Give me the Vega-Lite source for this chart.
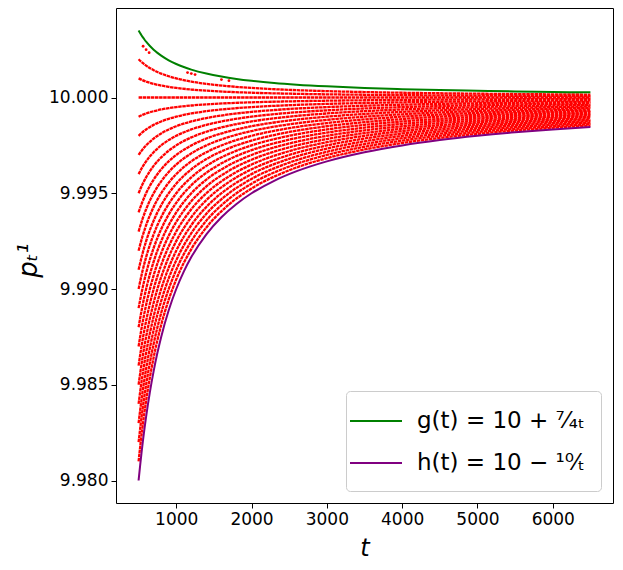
{
  "$schema": "https://vega.github.io/schema/vega-lite/v6.json",
  "width": 497,
  "height": 495,
  "autosize": "none",
  "padding": {"left": 116, "top": 8, "right": 10, "bottom": 67},
  "background": "white",
  "datasets": {
    "paths": [
      {"c":1,"t":500,"p":10.002},{"c":1,"t":550,"p":10.001818},{"c":1,"t":600,"p":10.001667},{"c":1,"t":700,"p":10.001429},{"c":1,"t":800,"p":10.00125},{"c":1,"t":900,"p":10.001111},{"c":1,"t":1000,"p":10.001},{"c":1,"t":1200,"p":10.000833},{"c":1,"t":1400,"p":10.000714},{"c":1,"t":1700,"p":10.000588},{"c":1,"t":2000,"p":10.0005},{"c":1,"t":2500,"p":10.0004},{"c":1,"t":3000,"p":10.000333},{"c":1,"t":3500,"p":10.000286},{"c":1,"t":4000,"p":10.00025},{"c":1,"t":5000,"p":10.0002},{"c":1,"t":6000,"p":10.000167},{"c":1,"t":6500,"p":10.000154},
      {"c":0.5,"t":500,"p":10.001},{"c":0.5,"t":550,"p":10.000909},{"c":0.5,"t":600,"p":10.000833},{"c":0.5,"t":700,"p":10.000714},{"c":0.5,"t":800,"p":10.000625},{"c":0.5,"t":900,"p":10.000556},{"c":0.5,"t":1000,"p":10.0005},{"c":0.5,"t":1200,"p":10.000417},{"c":0.5,"t":1400,"p":10.000357},{"c":0.5,"t":1700,"p":10.000294},{"c":0.5,"t":2000,"p":10.00025},{"c":0.5,"t":2500,"p":10.0002},{"c":0.5,"t":3000,"p":10.000167},{"c":0.5,"t":3500,"p":10.000143},{"c":0.5,"t":4000,"p":10.000125},{"c":0.5,"t":5000,"p":10.0001},{"c":0.5,"t":6000,"p":10.000083},{"c":0.5,"t":6500,"p":10.000077},
      {"c":0,"t":500,"p":10.0},{"c":0,"t":6500,"p":10.0},
      {"c":-0.5,"t":500,"p":9.999},{"c":-0.5,"t":550,"p":9.999091},{"c":-0.5,"t":600,"p":9.999167},{"c":-0.5,"t":700,"p":9.999286},{"c":-0.5,"t":800,"p":9.999375},{"c":-0.5,"t":900,"p":9.999444},{"c":-0.5,"t":1000,"p":9.9995},{"c":-0.5,"t":1200,"p":9.999583},{"c":-0.5,"t":1400,"p":9.999643},{"c":-0.5,"t":1700,"p":9.999706},{"c":-0.5,"t":2000,"p":9.99975},{"c":-0.5,"t":2500,"p":9.9998},{"c":-0.5,"t":3000,"p":9.999833},{"c":-0.5,"t":3500,"p":9.999857},{"c":-0.5,"t":4000,"p":9.999875},{"c":-0.5,"t":5000,"p":9.9999},{"c":-0.5,"t":6000,"p":9.999917},{"c":-0.5,"t":6500,"p":9.999923},
      {"c":-1,"t":500,"p":9.998},{"c":-1,"t":550,"p":9.998182},{"c":-1,"t":600,"p":9.998333},{"c":-1,"t":700,"p":9.998571},{"c":-1,"t":800,"p":9.99875},{"c":-1,"t":900,"p":9.998889},{"c":-1,"t":1000,"p":9.999},{"c":-1,"t":1200,"p":9.999167},{"c":-1,"t":1400,"p":9.999286},{"c":-1,"t":1700,"p":9.999412},{"c":-1,"t":2000,"p":9.9995},{"c":-1,"t":2500,"p":9.9996},{"c":-1,"t":3000,"p":9.999667},{"c":-1,"t":3500,"p":9.999714},{"c":-1,"t":4000,"p":9.99975},{"c":-1,"t":5000,"p":9.9998},{"c":-1,"t":6000,"p":9.999833},{"c":-1,"t":6500,"p":9.999846},
      {"c":-1.5,"t":500,"p":9.997},{"c":-1.5,"t":550,"p":9.997273},{"c":-1.5,"t":600,"p":9.9975},{"c":-1.5,"t":700,"p":9.997857},{"c":-1.5,"t":800,"p":9.998125},{"c":-1.5,"t":900,"p":9.998333},{"c":-1.5,"t":1000,"p":9.9985},{"c":-1.5,"t":1200,"p":9.99875},{"c":-1.5,"t":1400,"p":9.998929},{"c":-1.5,"t":1700,"p":9.999118},{"c":-1.5,"t":2000,"p":9.99925},{"c":-1.5,"t":2500,"p":9.9994},{"c":-1.5,"t":3000,"p":9.9995},{"c":-1.5,"t":3500,"p":9.999571},{"c":-1.5,"t":4000,"p":9.999625},{"c":-1.5,"t":5000,"p":9.9997},{"c":-1.5,"t":6000,"p":9.99975},{"c":-1.5,"t":6500,"p":9.999769},
      {"c":-2,"t":500,"p":9.996},{"c":-2,"t":550,"p":9.996364},{"c":-2,"t":600,"p":9.996667},{"c":-2,"t":700,"p":9.997143},{"c":-2,"t":800,"p":9.9975},{"c":-2,"t":900,"p":9.997778},{"c":-2,"t":1000,"p":9.998},{"c":-2,"t":1200,"p":9.998333},{"c":-2,"t":1400,"p":9.998571},{"c":-2,"t":1700,"p":9.998824},{"c":-2,"t":2000,"p":9.999},{"c":-2,"t":2500,"p":9.9992},{"c":-2,"t":3000,"p":9.999333},{"c":-2,"t":3500,"p":9.999429},{"c":-2,"t":4000,"p":9.9995},{"c":-2,"t":5000,"p":9.9996},{"c":-2,"t":6000,"p":9.999667},{"c":-2,"t":6500,"p":9.999692},
      {"c":-2.5,"t":500,"p":9.995},{"c":-2.5,"t":550,"p":9.995455},{"c":-2.5,"t":600,"p":9.995833},{"c":-2.5,"t":700,"p":9.996429},{"c":-2.5,"t":800,"p":9.996875},{"c":-2.5,"t":900,"p":9.997222},{"c":-2.5,"t":1000,"p":9.9975},{"c":-2.5,"t":1200,"p":9.997917},{"c":-2.5,"t":1400,"p":9.998214},{"c":-2.5,"t":1700,"p":9.998529},{"c":-2.5,"t":2000,"p":9.99875},{"c":-2.5,"t":2500,"p":9.999},{"c":-2.5,"t":3000,"p":9.999167},{"c":-2.5,"t":3500,"p":9.999286},{"c":-2.5,"t":4000,"p":9.999375},{"c":-2.5,"t":5000,"p":9.9995},{"c":-2.5,"t":6000,"p":9.999583},{"c":-2.5,"t":6500,"p":9.999615},
      {"c":-3,"t":500,"p":9.994},{"c":-3,"t":550,"p":9.994545},{"c":-3,"t":600,"p":9.995},{"c":-3,"t":700,"p":9.995714},{"c":-3,"t":800,"p":9.99625},{"c":-3,"t":900,"p":9.996667},{"c":-3,"t":1000,"p":9.997},{"c":-3,"t":1200,"p":9.9975},{"c":-3,"t":1400,"p":9.997857},{"c":-3,"t":1700,"p":9.998235},{"c":-3,"t":2000,"p":9.9985},{"c":-3,"t":2500,"p":9.9988},{"c":-3,"t":3000,"p":9.999},{"c":-3,"t":3500,"p":9.999143},{"c":-3,"t":4000,"p":9.99925},{"c":-3,"t":5000,"p":9.9994},{"c":-3,"t":6000,"p":9.9995},{"c":-3,"t":6500,"p":9.999538},
      {"c":-3.5,"t":500,"p":9.993},{"c":-3.5,"t":550,"p":9.993636},{"c":-3.5,"t":600,"p":9.994167},{"c":-3.5,"t":700,"p":9.995},{"c":-3.5,"t":800,"p":9.995625},{"c":-3.5,"t":900,"p":9.996111},{"c":-3.5,"t":1000,"p":9.9965},{"c":-3.5,"t":1200,"p":9.997083},{"c":-3.5,"t":1400,"p":9.9975},{"c":-3.5,"t":1700,"p":9.997941},{"c":-3.5,"t":2000,"p":9.99825},{"c":-3.5,"t":2500,"p":9.9986},{"c":-3.5,"t":3000,"p":9.998833},{"c":-3.5,"t":3500,"p":9.999},{"c":-3.5,"t":4000,"p":9.999125},{"c":-3.5,"t":5000,"p":9.9993},{"c":-3.5,"t":6000,"p":9.999417},{"c":-3.5,"t":6500,"p":9.999462},
      {"c":-4,"t":500,"p":9.992},{"c":-4,"t":550,"p":9.992727},{"c":-4,"t":600,"p":9.993333},{"c":-4,"t":700,"p":9.994286},{"c":-4,"t":800,"p":9.995},{"c":-4,"t":900,"p":9.995556},{"c":-4,"t":1000,"p":9.996},{"c":-4,"t":1200,"p":9.996667},{"c":-4,"t":1400,"p":9.997143},{"c":-4,"t":1700,"p":9.997647},{"c":-4,"t":2000,"p":9.998},{"c":-4,"t":2500,"p":9.9984},{"c":-4,"t":3000,"p":9.998667},{"c":-4,"t":3500,"p":9.998857},{"c":-4,"t":4000,"p":9.999},{"c":-4,"t":5000,"p":9.9992},{"c":-4,"t":6000,"p":9.999333},{"c":-4,"t":6500,"p":9.999385},
      {"c":-4.5,"t":500,"p":9.991},{"c":-4.5,"t":550,"p":9.991818},{"c":-4.5,"t":600,"p":9.9925},{"c":-4.5,"t":700,"p":9.993571},{"c":-4.5,"t":800,"p":9.994375},{"c":-4.5,"t":900,"p":9.995},{"c":-4.5,"t":1000,"p":9.9955},{"c":-4.5,"t":1200,"p":9.99625},{"c":-4.5,"t":1400,"p":9.996786},{"c":-4.5,"t":1700,"p":9.997353},{"c":-4.5,"t":2000,"p":9.99775},{"c":-4.5,"t":2500,"p":9.9982},{"c":-4.5,"t":3000,"p":9.9985},{"c":-4.5,"t":3500,"p":9.998714},{"c":-4.5,"t":4000,"p":9.998875},{"c":-4.5,"t":5000,"p":9.9991},{"c":-4.5,"t":6000,"p":9.99925},{"c":-4.5,"t":6500,"p":9.999308},
      {"c":-5,"t":500,"p":9.99},{"c":-5,"t":550,"p":9.990909},{"c":-5,"t":600,"p":9.991667},{"c":-5,"t":700,"p":9.992857},{"c":-5,"t":800,"p":9.99375},{"c":-5,"t":900,"p":9.994444},{"c":-5,"t":1000,"p":9.995},{"c":-5,"t":1200,"p":9.995833},{"c":-5,"t":1400,"p":9.996429},{"c":-5,"t":1700,"p":9.997059},{"c":-5,"t":2000,"p":9.9975},{"c":-5,"t":2500,"p":9.998},{"c":-5,"t":3000,"p":9.998333},{"c":-5,"t":3500,"p":9.998571},{"c":-5,"t":4000,"p":9.99875},{"c":-5,"t":5000,"p":9.999},{"c":-5,"t":6000,"p":9.999167},{"c":-5,"t":6500,"p":9.999231},
      {"c":-5.5,"t":500,"p":9.989},{"c":-5.5,"t":550,"p":9.99},{"c":-5.5,"t":600,"p":9.990833},{"c":-5.5,"t":700,"p":9.992143},{"c":-5.5,"t":800,"p":9.993125},{"c":-5.5,"t":900,"p":9.993889},{"c":-5.5,"t":1000,"p":9.9945},{"c":-5.5,"t":1200,"p":9.995417},{"c":-5.5,"t":1400,"p":9.996071},{"c":-5.5,"t":1700,"p":9.996765},{"c":-5.5,"t":2000,"p":9.99725},{"c":-5.5,"t":2500,"p":9.9978},{"c":-5.5,"t":3000,"p":9.998167},{"c":-5.5,"t":3500,"p":9.998429},{"c":-5.5,"t":4000,"p":9.998625},{"c":-5.5,"t":5000,"p":9.9989},{"c":-5.5,"t":6000,"p":9.999083},{"c":-5.5,"t":6500,"p":9.999154},
      {"c":-6,"t":500,"p":9.988},{"c":-6,"t":550,"p":9.989091},{"c":-6,"t":600,"p":9.99},{"c":-6,"t":700,"p":9.991429},{"c":-6,"t":800,"p":9.9925},{"c":-6,"t":900,"p":9.993333},{"c":-6,"t":1000,"p":9.994},{"c":-6,"t":1200,"p":9.995},{"c":-6,"t":1400,"p":9.995714},{"c":-6,"t":1700,"p":9.996471},{"c":-6,"t":2000,"p":9.997},{"c":-6,"t":2500,"p":9.9976},{"c":-6,"t":3000,"p":9.998},{"c":-6,"t":3500,"p":9.998286},{"c":-6,"t":4000,"p":9.9985},{"c":-6,"t":5000,"p":9.9988},{"c":-6,"t":6000,"p":9.999},{"c":-6,"t":6500,"p":9.999077},
      {"c":-6.5,"t":500,"p":9.987},{"c":-6.5,"t":550,"p":9.988182},{"c":-6.5,"t":600,"p":9.989167},{"c":-6.5,"t":700,"p":9.990714},{"c":-6.5,"t":800,"p":9.991875},{"c":-6.5,"t":900,"p":9.992778},{"c":-6.5,"t":1000,"p":9.9935},{"c":-6.5,"t":1200,"p":9.994583},{"c":-6.5,"t":1400,"p":9.995357},{"c":-6.5,"t":1700,"p":9.996176},{"c":-6.5,"t":2000,"p":9.99675},{"c":-6.5,"t":2500,"p":9.9974},{"c":-6.5,"t":3000,"p":9.997833},{"c":-6.5,"t":3500,"p":9.998143},{"c":-6.5,"t":4000,"p":9.998375},{"c":-6.5,"t":5000,"p":9.9987},{"c":-6.5,"t":6000,"p":9.998917},{"c":-6.5,"t":6500,"p":9.999},
      {"c":-7,"t":500,"p":9.986},{"c":-7,"t":550,"p":9.987273},{"c":-7,"t":600,"p":9.988333},{"c":-7,"t":700,"p":9.99},{"c":-7,"t":800,"p":9.99125},{"c":-7,"t":900,"p":9.992222},{"c":-7,"t":1000,"p":9.993},{"c":-7,"t":1200,"p":9.994167},{"c":-7,"t":1400,"p":9.995},{"c":-7,"t":1700,"p":9.995882},{"c":-7,"t":2000,"p":9.9965},{"c":-7,"t":2500,"p":9.9972},{"c":-7,"t":3000,"p":9.997667},{"c":-7,"t":3500,"p":9.998},{"c":-7,"t":4000,"p":9.99825},{"c":-7,"t":5000,"p":9.9986},{"c":-7,"t":6000,"p":9.998833},{"c":-7,"t":6500,"p":9.998923},
      {"c":-7.5,"t":500,"p":9.985},{"c":-7.5,"t":550,"p":9.986364},{"c":-7.5,"t":600,"p":9.9875},{"c":-7.5,"t":700,"p":9.989286},{"c":-7.5,"t":800,"p":9.990625},{"c":-7.5,"t":900,"p":9.991667},{"c":-7.5,"t":1000,"p":9.9925},{"c":-7.5,"t":1200,"p":9.99375},{"c":-7.5,"t":1400,"p":9.994643},{"c":-7.5,"t":1700,"p":9.995588},{"c":-7.5,"t":2000,"p":9.99625},{"c":-7.5,"t":2500,"p":9.997},{"c":-7.5,"t":3000,"p":9.9975},{"c":-7.5,"t":3500,"p":9.997857},{"c":-7.5,"t":4000,"p":9.998125},{"c":-7.5,"t":5000,"p":9.9985},{"c":-7.5,"t":6000,"p":9.99875},{"c":-7.5,"t":6500,"p":9.998846},
      {"c":-8,"t":500,"p":9.984},{"c":-8,"t":550,"p":9.985455},{"c":-8,"t":600,"p":9.986667},{"c":-8,"t":700,"p":9.988571},{"c":-8,"t":800,"p":9.99},{"c":-8,"t":900,"p":9.991111},{"c":-8,"t":1000,"p":9.992},{"c":-8,"t":1200,"p":9.993333},{"c":-8,"t":1400,"p":9.994286},{"c":-8,"t":1700,"p":9.995294},{"c":-8,"t":2000,"p":9.996},{"c":-8,"t":2500,"p":9.9968},{"c":-8,"t":3000,"p":9.997333},{"c":-8,"t":3500,"p":9.997714},{"c":-8,"t":4000,"p":9.998},{"c":-8,"t":5000,"p":9.9984},{"c":-8,"t":6000,"p":9.998667},{"c":-8,"t":6500,"p":9.998769},
      {"c":-8.5,"t":500,"p":9.983},{"c":-8.5,"t":550,"p":9.984545},{"c":-8.5,"t":600,"p":9.985833},{"c":-8.5,"t":700,"p":9.987857},{"c":-8.5,"t":800,"p":9.989375},{"c":-8.5,"t":900,"p":9.990556},{"c":-8.5,"t":1000,"p":9.9915},{"c":-8.5,"t":1200,"p":9.992917},{"c":-8.5,"t":1400,"p":9.993929},{"c":-8.5,"t":1700,"p":9.995},{"c":-8.5,"t":2000,"p":9.99575},{"c":-8.5,"t":2500,"p":9.9966},{"c":-8.5,"t":3000,"p":9.997167},{"c":-8.5,"t":3500,"p":9.997571},{"c":-8.5,"t":4000,"p":9.997875},{"c":-8.5,"t":5000,"p":9.9983},{"c":-8.5,"t":6000,"p":9.998583},{"c":-8.5,"t":6500,"p":9.998692},
      {"c":-9,"t":500,"p":9.982},{"c":-9,"t":550,"p":9.983636},{"c":-9,"t":600,"p":9.985},{"c":-9,"t":700,"p":9.987143},{"c":-9,"t":800,"p":9.98875},{"c":-9,"t":900,"p":9.99},{"c":-9,"t":1000,"p":9.991},{"c":-9,"t":1200,"p":9.9925},{"c":-9,"t":1400,"p":9.993571},{"c":-9,"t":1700,"p":9.994706},{"c":-9,"t":2000,"p":9.9955},{"c":-9,"t":2500,"p":9.9964},{"c":-9,"t":3000,"p":9.997},{"c":-9,"t":3500,"p":9.997429},{"c":-9,"t":4000,"p":9.99775},{"c":-9,"t":5000,"p":9.9982},{"c":-9,"t":6000,"p":9.9985},{"c":-9,"t":6500,"p":9.998615},
      {"c":-9.5,"t":500,"p":9.981},{"c":-9.5,"t":550,"p":9.982727},{"c":-9.5,"t":600,"p":9.984167},{"c":-9.5,"t":700,"p":9.986429},{"c":-9.5,"t":800,"p":9.988125},{"c":-9.5,"t":900,"p":9.989444},{"c":-9.5,"t":1000,"p":9.9905},{"c":-9.5,"t":1200,"p":9.992083},{"c":-9.5,"t":1400,"p":9.993214},{"c":-9.5,"t":1700,"p":9.994412},{"c":-9.5,"t":2000,"p":9.99525},{"c":-9.5,"t":2500,"p":9.9962},{"c":-9.5,"t":3000,"p":9.996833},{"c":-9.5,"t":3500,"p":9.997286},{"c":-9.5,"t":4000,"p":9.997625},{"c":-9.5,"t":5000,"p":9.9981},{"c":-9.5,"t":6000,"p":9.998417},{"c":-9.5,"t":6500,"p":9.998538}
    ],
    "dots": [
      {"t":560,"p":10.002679},{"t":600,"p":10.0025},{"t":640,"p":10.002344},
      {"t":1150,"p":10.001304},{"t":1200,"p":10.00125},{"t":1250,"p":10.0012},
      {"t":1600,"p":10.000938},{"t":1700,"p":10.000882}
    ],
    "bounds": [
      {"f":"g(t) = 10 + ⁷⁄₄ₜ","t":500,"p":10.0035},{"f":"g(t) = 10 + ⁷⁄₄ₜ","t":520,"p":10.003365},{"f":"g(t) = 10 + ⁷⁄₄ₜ","t":540,"p":10.003241},{"f":"g(t) = 10 + ⁷⁄₄ₜ","t":560,"p":10.003125},{"f":"g(t) = 10 + ⁷⁄₄ₜ","t":580,"p":10.003017},{"f":"g(t) = 10 + ⁷⁄₄ₜ","t":600,"p":10.002917},{"f":"g(t) = 10 + ⁷⁄₄ₜ","t":650,"p":10.002692},{"f":"g(t) = 10 + ⁷⁄₄ₜ","t":700,"p":10.0025},{"f":"g(t) = 10 + ⁷⁄₄ₜ","t":750,"p":10.002333},{"f":"g(t) = 10 + ⁷⁄₄ₜ","t":800,"p":10.002188},{"f":"g(t) = 10 + ⁷⁄₄ₜ","t":900,"p":10.001944},{"f":"g(t) = 10 + ⁷⁄₄ₜ","t":1000,"p":10.00175},{"f":"g(t) = 10 + ⁷⁄₄ₜ","t":1100,"p":10.001591},{"f":"g(t) = 10 + ⁷⁄₄ₜ","t":1200,"p":10.001458},{"f":"g(t) = 10 + ⁷⁄₄ₜ","t":1400,"p":10.00125},{"f":"g(t) = 10 + ⁷⁄₄ₜ","t":1600,"p":10.001094},{"f":"g(t) = 10 + ⁷⁄₄ₜ","t":1800,"p":10.000972},{"f":"g(t) = 10 + ⁷⁄₄ₜ","t":2000,"p":10.000875},{"f":"g(t) = 10 + ⁷⁄₄ₜ","t":2300,"p":10.000761},{"f":"g(t) = 10 + ⁷⁄₄ₜ","t":2600,"p":10.000673},{"f":"g(t) = 10 + ⁷⁄₄ₜ","t":3000,"p":10.000583},{"f":"g(t) = 10 + ⁷⁄₄ₜ","t":3500,"p":10.0005},{"f":"g(t) = 10 + ⁷⁄₄ₜ","t":4000,"p":10.000438},{"f":"g(t) = 10 + ⁷⁄₄ₜ","t":4500,"p":10.000389},{"f":"g(t) = 10 + ⁷⁄₄ₜ","t":5000,"p":10.00035},{"f":"g(t) = 10 + ⁷⁄₄ₜ","t":5500,"p":10.000318},{"f":"g(t) = 10 + ⁷⁄₄ₜ","t":6000,"p":10.000292},{"f":"g(t) = 10 + ⁷⁄₄ₜ","t":6500,"p":10.000269},
      {"f":"h(t) = 10 − ¹⁰⁄ₜ","t":500,"p":9.98},{"f":"h(t) = 10 − ¹⁰⁄ₜ","t":520,"p":9.980769},{"f":"h(t) = 10 − ¹⁰⁄ₜ","t":540,"p":9.981481},{"f":"h(t) = 10 − ¹⁰⁄ₜ","t":560,"p":9.982143},{"f":"h(t) = 10 − ¹⁰⁄ₜ","t":580,"p":9.982759},{"f":"h(t) = 10 − ¹⁰⁄ₜ","t":600,"p":9.983333},{"f":"h(t) = 10 − ¹⁰⁄ₜ","t":650,"p":9.984615},{"f":"h(t) = 10 − ¹⁰⁄ₜ","t":700,"p":9.985714},{"f":"h(t) = 10 − ¹⁰⁄ₜ","t":750,"p":9.986667},{"f":"h(t) = 10 − ¹⁰⁄ₜ","t":800,"p":9.9875},{"f":"h(t) = 10 − ¹⁰⁄ₜ","t":900,"p":9.988889},{"f":"h(t) = 10 − ¹⁰⁄ₜ","t":1000,"p":9.99},{"f":"h(t) = 10 − ¹⁰⁄ₜ","t":1100,"p":9.990909},{"f":"h(t) = 10 − ¹⁰⁄ₜ","t":1200,"p":9.991667},{"f":"h(t) = 10 − ¹⁰⁄ₜ","t":1400,"p":9.992857},{"f":"h(t) = 10 − ¹⁰⁄ₜ","t":1600,"p":9.99375},{"f":"h(t) = 10 − ¹⁰⁄ₜ","t":1800,"p":9.994444},{"f":"h(t) = 10 − ¹⁰⁄ₜ","t":2000,"p":9.995},{"f":"h(t) = 10 − ¹⁰⁄ₜ","t":2300,"p":9.995652},{"f":"h(t) = 10 − ¹⁰⁄ₜ","t":2600,"p":9.996154},{"f":"h(t) = 10 − ¹⁰⁄ₜ","t":3000,"p":9.996667},{"f":"h(t) = 10 − ¹⁰⁄ₜ","t":3500,"p":9.997143},{"f":"h(t) = 10 − ¹⁰⁄ₜ","t":4000,"p":9.9975},{"f":"h(t) = 10 − ¹⁰⁄ₜ","t":4500,"p":9.997778},{"f":"h(t) = 10 − ¹⁰⁄ₜ","t":5000,"p":9.998},{"f":"h(t) = 10 − ¹⁰⁄ₜ","t":5500,"p":9.998182},{"f":"h(t) = 10 − ¹⁰⁄ₜ","t":6000,"p":9.998333},{"f":"h(t) = 10 − ¹⁰⁄ₜ","t":6500,"p":9.998462}
    ]
  },
  "encoding": {
    "x": {
      "field": "t",
      "type": "quantitative",
      "title": "t",
      "scale": {"domain": [200, 6800], "nice": false, "zero": false},
      "axis": {
        "values": [1000, 2000, 3000, 4000, 5000, 6000],
        "format": "d",
        "titleFontStyle": "italic",
        "titleFontSize": 24,
        "titlePadding": 9
      }
    },
    "y": {
      "field": "p",
      "type": "quantitative",
      "title": "pₜ¹",
      "scale": {"domain": [9.978825, 10.004675], "nice": false, "zero": false},
      "axis": {
        "values": [9.98, 9.985, 9.99, 9.995, 10.0],
        "format": ".3f",
        "titleFontStyle": "italic",
        "titleFontSize": 26,
        "titleX": -88,
        "titleY": 252,
        "titleAngle": -90,
        "titleBaseline": "middle",
        "titleAlign": "center"
      }
    }
  },
  "layer": [
    {
      "data": {"name": "paths"},
      "mark": {"type": "line", "color": "#ff0000", "strokeWidth": 2.3, "strokeDash": [3.5, 0.6], "interpolate": "monotone", "clip": true},
      "encoding": {"detail": {"field": "c", "type": "nominal"}}
    },
    {
      "data": {"name": "dots"},
      "mark": {"type": "circle", "color": "#ff0000", "size": 8, "opacity": 1},
      "encoding": {}
    },
    {
      "data": {"name": "bounds"},
      "mark": {"type": "line", "strokeWidth": 2, "interpolate": "monotone", "clip": true},
      "encoding": {
        "color": {
          "field": "f",
          "type": "nominal",
          "scale": {"range": ["#008000", "#800080"]},
          "legend": {"title": null}
        }
      }
    }
  ],
  "config": {
    "font": "DejaVu Sans",
    "view": {"stroke": "#000000", "strokeWidth": 1},
    "axis": {
      "grid": false,
      "domain": false,
      "ticks": true,
      "tickColor": "#000000",
      "tickSize": 5,
      "labelFont": "DejaVu Sans",
      "labelFontSize": 17,
      "labelColor": "#000000",
      "labelPadding": 3,
      "titleFont": "DejaVu Sans",
      "titleFontWeight": "normal",
      "titleColor": "#000000"
    },
    "legend": {
      "orient": "bottom-right",
      "offset": 12,
      "padding": 16,
      "fillColor": "rgba(255,255,255,0.8)",
      "strokeColor": "#cccccc",
      "cornerRadius": 4,
      "labelFont": "DejaVu Sans",
      "labelFontSize": 23,
      "labelLimit": 0,
      "labelColor": "#000000",
      "labelOffset": 27,
      "symbolType": "M-2,0H2",
      "symbolSize": 676,
      "symbolStrokeWidth": 2,
      "symbolFillColor": "transparent",
      "rowPadding": 16
    }
  }
}
